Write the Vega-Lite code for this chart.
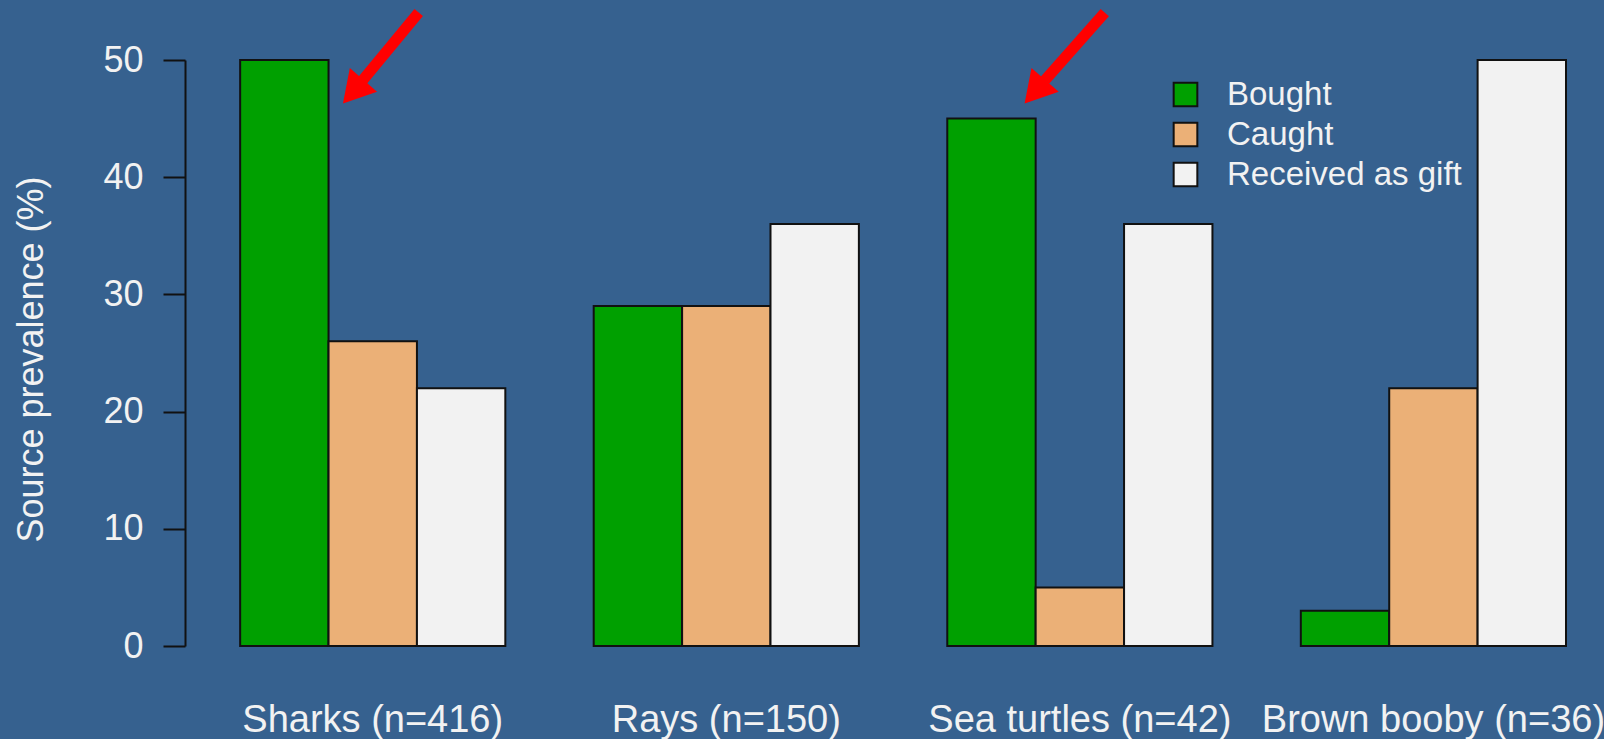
{
  "$schema": "https://vega.github.io/schema/vega-lite/v6.json",
  "autosize": {"type": "none"},
  "width": 1381,
  "height": 586,
  "padding": {"left": 185, "top": 60, "right": 38, "bottom": 93},
  "background": "#36618F",
  "config": {
    "view": {"stroke": null},
    "font": "Liberation Sans"
  },
  "datasets": {
    "bars": [
      {"species": "Sharks (n=416)", "source": "Bought", "pct": 50},
      {"species": "Sharks (n=416)", "source": "Caught", "pct": 26},
      {"species": "Sharks (n=416)", "source": "Received as gift", "pct": 22},
      {"species": "Rays (n=150)", "source": "Bought", "pct": 29},
      {"species": "Rays (n=150)", "source": "Caught", "pct": 29},
      {"species": "Rays (n=150)", "source": "Received as gift", "pct": 36},
      {"species": "Sea turtles (n=42)", "source": "Bought", "pct": 45},
      {"species": "Sea turtles (n=42)", "source": "Caught", "pct": 5},
      {"species": "Sea turtles (n=42)", "source": "Received as gift", "pct": 36},
      {"species": "Brown booby (n=36)", "source": "Bought", "pct": 3},
      {"species": "Brown booby (n=36)", "source": "Caught", "pct": 22},
      {"species": "Brown booby (n=36)", "source": "Received as gift", "pct": 50}
    ],
    "arrows": [
      {"id": 1, "u": 3.04, "v": 54.05, "u2": 2.3, "v2": 47.3},
      {"id": 2, "u": 10.79, "v": 54.05, "u2": 10.0, "v2": 47.3}
    ]
  },
  "layer": [
    {
      "data": {"name": "bars"},
      "mark": {"type": "bar", "stroke": "#111111", "strokeWidth": 2},
      "encoding": {
        "x": {
          "field": "species",
          "type": "nominal",
          "sort": ["Sharks (n=416)", "Rays (n=150)", "Sea turtles (n=42)", "Brown booby (n=36)"],
          "scale": {"paddingInner": 0.25, "paddingOuter": 0.078, "align": 1},
          "axis": {
            "title": null,
            "labelAngle": 0,
            "labelFontSize": 38,
            "labelColor": "#F2F2F2",
            "labelPadding": 55,
            "labelLimit": 400,
            "ticks": false,
            "domain": false,
            "labelBaseline": "top"
          }
        },
        "xOffset": {
          "field": "source",
          "type": "nominal",
          "sort": ["Bought", "Caught", "Received as gift"],
          "scale": {"paddingInner": 0, "paddingOuter": 0}
        },
        "y": {
          "field": "pct",
          "type": "quantitative",
          "scale": {"domain": [0, 50], "nice": false},
          "axis": {
            "title": "Source prevalence (%)",
            "values": [0, 10, 20, 30, 40, 50],
            "grid": false,
            "tickSize": 22,
            "tickWidth": 2,
            "tickColor": "#111111",
            "domainColor": "#111111",
            "domainWidth": 2,
            "labelFontSize": 36,
            "labelColor": "#F2F2F2",
            "labelPadding": 20,
            "titleFontSize": 36,
            "titleFontWeight": "normal",
            "titleColor": "#F2F2F2",
            "titleX": -154,
            "titleY": 299,
            "titleAlign": "center",
            "titleBaseline": "middle",
            "titleAngle": -90
          }
        },
        "fill": {
          "field": "source",
          "type": "nominal",
          "sort": ["Bought", "Caught", "Received as gift"],
          "scale": {"domain": ["Bought", "Caught", "Received as gift"], "range": ["#00A000", "#EBB077", "#F2F2F2"]},
          "legend": {
            "title": null,
            "orient": "none",
            "legendX": 984,
            "legendY": 18,
            "symbolType": "square",
            "symbolSize": 560,
            "symbolStrokeColor": "#111111",
            "symbolStrokeWidth": 2,
            "labelFontSize": 33,
            "labelColor": "#F2F2F2",
            "labelOffset": 25,
            "labelLimit": 400,
            "rowPadding": 6
          }
        }
      }
    },
    {
      "data": {"name": "arrows"},
      "mark": {"type": "rule", "color": "#FF0000", "strokeWidth": 11},
      "encoding": {
        "x": {"field": "u", "type": "quantitative", "scale": {"domain": [0.4, 16.0], "nice": false, "zero": false}, "axis": null},
        "x2": {"field": "u2"},
        "y": {"field": "v", "type": "quantitative"},
        "y2": {"field": "v2"}
      }
    },
    {
      "data": {"name": "arrows"},
      "mark": {"type": "point", "shape": "triangle-up", "filled": true, "color": "#FF0000", "opacity": 1, "size": 1300, "angle": 221},
      "encoding": {
        "x": {"field": "u2", "type": "quantitative", "scale": {"domain": [0.4, 16.0], "nice": false, "zero": false}, "axis": null},
        "y": {"field": "v2", "type": "quantitative"}
      }
    }
  ],
  "resolve": {"scale": {"x": "independent"}, "axis": {"x": "independent"}}
}
